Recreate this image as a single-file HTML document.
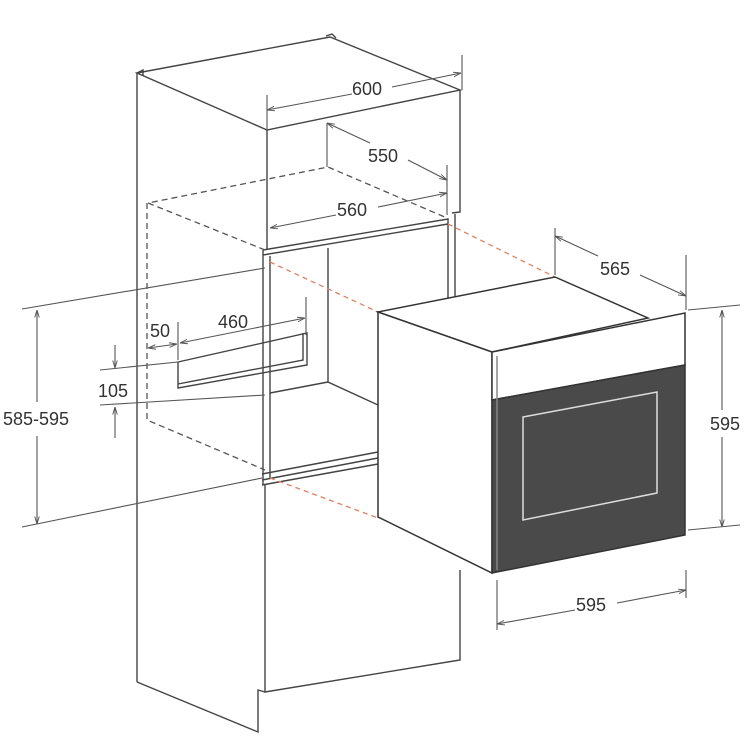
<!DOCTYPE html>
<html><head><style>html,body{margin:0;padding:0;background:#fff}svg{display:block}text{font-family:"Liberation Sans",sans-serif;font-size:18px;fill:#333}</style></head>
<body>
<svg width="751" height="744" viewBox="0 0 751 744" xmlns="http://www.w3.org/2000/svg">
<defs><marker id="a" viewBox="0 0 10 10" refX="10" refY="5" markerWidth="7" markerHeight="7" orient="auto-start-reverse"><path d="M0,2 L10,5 L0,8" fill="none" stroke="#555" stroke-width="1.2"/></marker></defs>
<g fill="none" stroke="#444" stroke-width="1.4">
<!-- cabinet top -->
<path d="M137,73 L330,37 L460,90 L267,130 Z"/>
<path d="M137,73 L137,682"/>
<path d="M137,73 L143,70 L143,76"/><path d="M326,36 L332,34 L336,38"/>
<path d="M267,130 L267,250"/><path d="M460,90 L460,212 L452,213"/>
<!-- cavity lip -->
<path d="M263,250 L448,219 L448,300"/><path d="M263,255 L448,224"/><path d="M455,214 L455,300"/>
<path d="M263,250 L263,485"/><path d="M270,256 L270,478"/>
<path d="M328,248 L328,382 L378,405"/><path d="M270,393 L328,382"/>
<path d="M262,474 L378,452"/><path d="M262,480 L378,458"/><path d="M262,485 L378,464"/>
<!-- lower cabinet -->
<path d="M265,485 L265,692 L460,660 L460,570"/><path d="M137,682 L258,732 L258,690 L265,692"/>
<!-- vent slot -->
<path d="M178,362 L307,333 L307,365 L178,388 Z"/><path d="M178,384 L303,360 L303,333"/>
</g>
<!-- dashed -->
<g fill="none" stroke="#555" stroke-width="1.3" stroke-dasharray="6,4">
<path d="M265,250 L148,203 L328,167 L447,218"/><path d="M147,203 L147,420 L265,470"/>
</g>
<g fill="none" stroke="#e08060" stroke-width="1.3" stroke-dasharray="5,4">
<path d="M270,262 L378,312"/><path d="M448,224 L555,277"/><path d="M270,478 L378,518"/>
</g>
<!-- oven -->
<g stroke="#333" stroke-width="1.5">
<path d="M378,312 L555,277 L648,318 L492,352 Z" fill="#fff"/>
<path d="M378,312 L492,352 L492,573 L378,517 Z" fill="#fff"/>
<path d="M492,352 L685,313 L685,365 L492,400 Z" fill="#fff"/>
<path d="M492,400 L685,365 L685,535 L492,573 Z" fill="#4a4a4a"/>
<path d="M497,356 L497,570" stroke="#888"/>
</g>
<path d="M523,417 L657,392 L657,493 L523,520 Z" fill="none" stroke="#ddd" stroke-width="1.5"/>
<!-- dims -->
<g fill="none" stroke="#555" stroke-width="1.1">
<path d="M267,95 L267,130"/><path d="M462,55 L462,90"/>
<path d="M267,110 L352,94" marker-start="url(#a)"/><path d="M392,87 L461,73" marker-end="url(#a)"/>
<path d="M327,123 L327,167"/><path d="M447,165 L447,215"/>
<path d="M327,123 L370,143" marker-start="url(#a)"/><path d="M408,160 L447,180" marker-end="url(#a)"/>
<path d="M270,228 L336,215" marker-start="url(#a)"/><path d="M378,207 L447,193" marker-end="url(#a)"/>
<path d="M555,228 L555,275"/><path d="M686,255 L686,310"/>
<path d="M555,236 L598,256" marker-start="url(#a)"/><path d="M640,275 L686,296" marker-end="url(#a)"/>
<path d="M688,310 L740,305"/><path d="M688,530 L740,525"/>
<path d="M722,310 L722,410" marker-start="url(#a)"/><path d="M722,437 L722,527" marker-end="url(#a)"/>
<path d="M497,580 L497,630"/><path d="M686,570 L686,598"/>
<path d="M497,624 L575,610" marker-start="url(#a)"/><path d="M617,603 L686,590" marker-end="url(#a)"/>
<path d="M22,309 L265,268"/><path d="M22,527 L262,478"/>
<path d="M37,310 L37,402" marker-start="url(#a)"/><path d="M37,436 L37,524" marker-end="url(#a)"/>
<path d="M100,370 L178,362"/><path d="M100,405 L265,395"/>
<path d="M115,345 L115,368" marker-end="url(#a)"/><path d="M115,438 L115,407" marker-end="url(#a)"/>
<path d="M178,322 L178,360"/><path d="M306,297 L306,335"/>
<path d="M148,348 L177,344" marker-start="url(#a)" marker-end="url(#a)"/>
<path d="M180,343 L305,318" marker-start="url(#a)" marker-end="url(#a)"/>
</g>
<text x="352" y="95">600</text>
<text x="368" y="162">550</text>
<text x="337" y="216">560</text>
<text x="600" y="275">565</text>
<text x="710" y="430">595</text>
<text x="576" y="611">595</text>
<text x="3" y="425">585-595</text>
<text x="98" y="397">105</text>
<text x="150" y="337">50</text>
<text x="218" y="328">460</text>
</svg>
</body></html>
